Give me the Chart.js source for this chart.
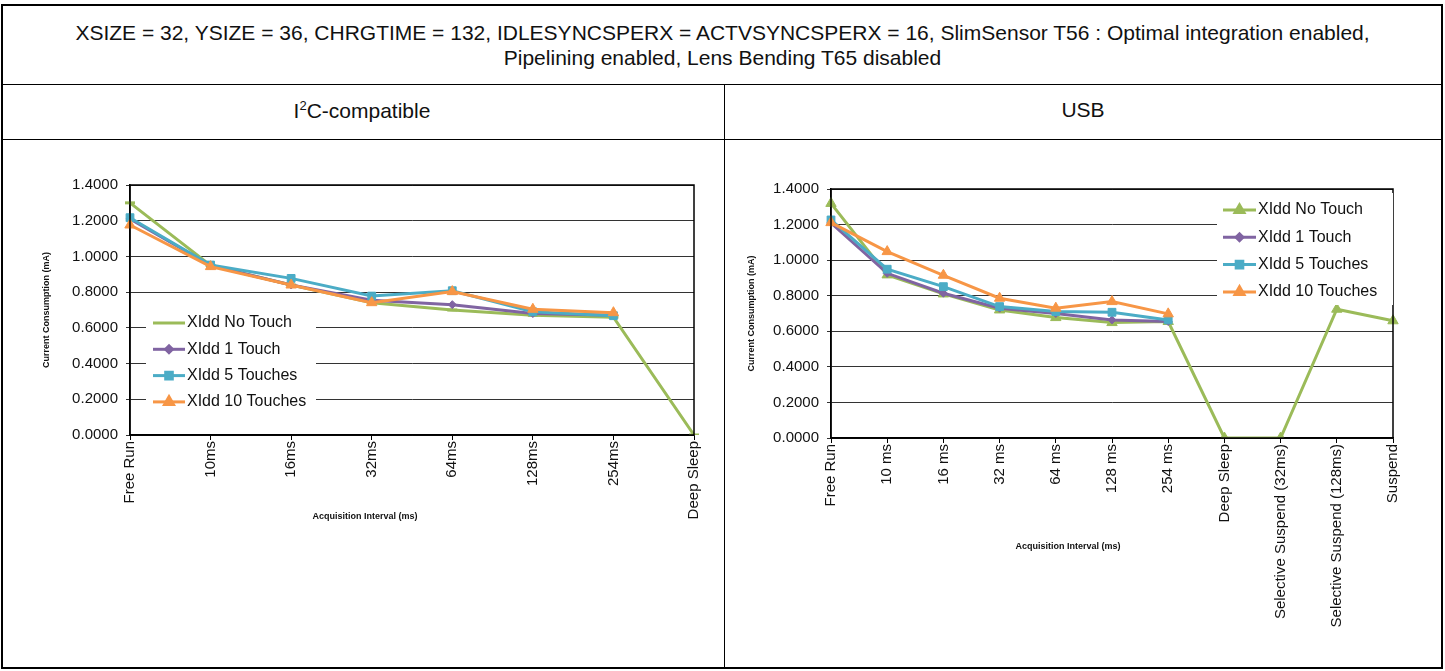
<!DOCTYPE html>
<html>
<head>
<meta charset="utf-8">
<script src="https://cdn.jsdelivr.net/npm/chart.js@4"></script>
<style>
  body { margin: 0; background: #fff; font-family: "Liberation Sans", Arial, sans-serif; color: #111; }
  #page { position: relative; width: 1445px; height: 671px; overflow: hidden; }
  .frame { position: absolute; left: 1px; top: 4px; width: 1438px; height: 661px; border: 2px solid #000; }
  .hline { position: absolute; height: 0; border-top: 1px solid #000; }
  .vline { position: absolute; width: 0; border-left: 1px solid #000; }
  .head { position: absolute; left: 0; width: 1445px; text-align: center; font-size: 21px; line-height: 25px; }
  .cell { position: absolute; text-align: center; font-size: 21px; }
  canvas { position: absolute; }
</style>
</head>
<body>
<div id="page">
  <div class="frame"></div>
  <div class="hline" style="left:1px; top:84px; width:1440px;"></div>
  <div class="hline" style="left:1px; top:139px; width:1440px;"></div>
  <div class="vline" style="left:724px; top:84px; height:583px;"></div>
  <div class="head" style="top:20px;">XSIZE = 32, YSIZE = 36, CHRGTIME = 132, IDLESYNCSPERX = ACTVSYNCSPERX = 16, SlimSensor T56 : Optimal integration enabled,<br>Pipelining enabled, Lens Bending T65 disabled</div>
  <div class="cell" style="left:0; width:724px; top:98px;">I<sup style="font-size:13px;">2</sup>C-compatible</div>
  <div class="cell" style="left:724px; width:718px; top:98px;">USB</div>
  <canvas id="leftChart" style="left:5px; top:145px;" width="714" height="515"></canvas>
  <canvas id="rightChart" style="left:728px; top:145px;" width="708" height="515"></canvas>
</div>
<script>
// I2C-compatible chart
const i2cLabels = ["Free Run", "10ms", "16ms", "32ms", "64ms", "128ms", "254ms", "Deep Sleep"];
const i2cNoTouch = [1.30, 0.95, 0.84, 0.74, 0.70, 0.67, 0.66, 0.0];
const i2cOneTouch = [1.21, 0.95, 0.84, 0.755, 0.73, 0.68, 0.67, null];
const i2cFiveTouches = [1.217, 0.952, 0.877, 0.778, 0.808, 0.69, 0.668, null];
const i2cTenTouches = [1.176, 0.943, 0.84, 0.741, 0.803, 0.704, 0.685, null];

// USB chart
const usbLabels = ["Free Run", "10 ms", "16 ms", "32 ms", "64 ms", "128 ms", "254 ms", "Deep Sleep",
  "Selective Suspend (32ms)", "Selective Suspend (128ms)", "Suspend"];
const usbNoTouch = [1.319, 0.917, 0.81, 0.72, 0.677, 0.649, 0.655, 0.0, 0.0, 0.724, 0.659];
const usbOneTouch = [1.21, 0.926, 0.814, 0.73, 0.70, 0.664, 0.655, null, null, null, null];
const usbFiveTouches = [1.226, 0.949, 0.851, 0.739, 0.711, 0.707, 0.664, null, null, null, null];
const usbTenTouches = [1.211, 1.048, 0.915, 0.786, 0.73, 0.767, 0.698, null, null, null, null];

const yTicks = [0, 0.2, 0.4, 0.6, 0.8, 1.0, 1.2, 1.4];
const seriesNames = ["XIdd No Touch", "XIdd 1 Touch", "XIdd 5 Touches", "XIdd 10 Touches"];

const GREEN = "#9bbb59", PURPLE = "#8064a2", TEAL = "#4bacc6", ORANGE = "#f79646";
const FONT = "'Liberation Sans', Arial, sans-serif";

function makeDatasets(values, greenStyle) {
  const styles = [
    { color: GREEN, point: greenStyle.point, radius: greenStyle.radius, order: 4 },
    { color: PURPLE, point: "rectRot", radius: 4, order: 3 },
    { color: TEAL, point: "rect", radius: 5.5, order: 2 },
    { color: ORANGE, point: "triangle", radius: 6, order: 1 },
  ];
  return values.map((data, i) => ({
    label: seriesNames[i],
    data: data,
    borderColor: styles[i].color,
    backgroundColor: styles[i].color,
    borderWidth: 3,
    pointStyle: styles[i].point,
    pointRadius: styles[i].radius,
    pointBorderWidth: styles[i].point === "line" ? 3 : 1,
    pointBackgroundColor: styles[i].color,
    pointBorderColor: styles[i].color,
    order: styles[i].order,
    tension: 0,
  }));
}

// frame, axis titles and an in-plot legend
function decorPlugin(cfg) {
  return {
    id: "decor",
    afterDraw(chart) {
      const { ctx, chartArea: a } = chart;
      ctx.save();
      ctx.strokeStyle = "#000";
      ctx.lineWidth = 1.5;
      ctx.strokeRect(a.left, a.top, a.right - a.left, a.bottom - a.top);

      ctx.fillStyle = "#111";
      ctx.font = "bold 9px " + FONT;
      ctx.textAlign = "center";
      ctx.textBaseline = "middle";
      ctx.fillText("Acquisition Interval (ms)", a.left + cfg.xTitleDx, a.bottom + cfg.xTitleDy);
      ctx.translate(a.left - cfg.yTitleDx, (a.top + a.bottom) / 2);
      ctx.rotate(-Math.PI / 2);
      ctx.fillText("Current Consumption (mA)", 0, 0);
      ctx.restore();

      // legend
      ctx.save();
      const lg = cfg.legend;
      ctx.fillStyle = "#fff";
      ctx.fillRect(a.left + lg.x, a.top + lg.y, lg.w, lg.h);
      ctx.font = "16px " + FONT;
      ctx.textAlign = "left";
      ctx.textBaseline = "middle";
      chart.data.datasets.forEach((ds, i) => {
        const y = a.top + lg.y + lg.first + i * lg.step;
        const x0 = a.left + lg.x + lg.pad;
        ctx.strokeStyle = ds.borderColor;
        ctx.lineWidth = 3;
        ctx.beginPath();
        ctx.moveTo(x0, y);
        ctx.lineTo(x0 + lg.line, y);
        ctx.stroke();
        if (!(i === 0 && lg.noGreenMarker)) {
          Chart.helpers.drawPoint(ctx, {
            pointStyle: ds.pointStyle, radius: ds.pointRadius * 0.85, borderWidth: 1, rotation: 0,
          }, x0 + lg.line / 2, y);
          ctx.fillStyle = ds.borderColor;
          ctx.fill();
        }
        ctx.fillStyle = "#111";
        ctx.fillText(ds.label, x0 + lg.line + 2, y);
      });
      ctx.restore();
    },
  };
}

function makeChart(id, labels, values, cfg) {
  new Chart(document.getElementById(id).getContext("2d"), {
    type: "line",
    data: { labels: labels, datasets: makeDatasets(values, cfg.green) },
    options: {
      responsive: false,
      animation: false,
      spanGaps: false,
      layout: { padding: cfg.padding },
      plugins: { legend: { display: false }, tooltip: { enabled: false } },
      scales: {
        x: {
          offset: false,
          border: { color: "#000", width: 1.5 },
          grid: { drawOnChartArea: false, drawTicks: true, tickLength: 5, color: "#000" },
          ticks: { color: "#111", font: { family: FONT, size: 15 }, minRotation: 90, maxRotation: 90, autoSkip: false, padding: 1 },
          afterFit: (s) => { s.height = cfg.xHeight; },
        },
        y: {
          min: 0,
          max: 1.4,
          afterBuildTicks: (s) => { s.ticks = yTicks.map((v) => ({ value: v })); },
          border: { color: "#000", width: 1.5 },
          grid: { color: "#333", lineWidth: 1, tickLength: 4 },
          ticks: { color: "#111", font: { family: FONT, size: 15 }, padding: 8, callback: (v) => v.toFixed(4) },
          afterFit: (s) => { s.width = cfg.yWidth; },
        },
      },
    },
    plugins: [decorPlugin(cfg)],
  });
}

makeChart("leftChart", i2cLabels, [i2cNoTouch, i2cOneTouch, i2cFiveTouches, i2cTenTouches], {
  green: { point: "line", radius: 5 },
  padding: { top: 40, left: 0, right: 25, bottom: 0 },
  yWidth: 125,
  xHeight: 225,
  xTitleDx: 235, xTitleDy: 82,
  yTitleDx: 83,
  legend: { x: 16, y: 120, w: 170, h: 106, pad: 7, first: 18, step: 26.3, line: 32, noGreenMarker: true },
});

makeChart("rightChart", usbLabels, [usbNoTouch, usbOneTouch, usbFiveTouches, usbTenTouches], {
  green: { point: "triangle", radius: 6 },
  padding: { top: 44, left: 0, right: 43, bottom: 0 },
  yWidth: 103,
  xHeight: 222,
  xTitleDx: 237, xTitleDy: 109,
  yTitleDx: 79,
  legend: { x: 386, y: 4, w: 176, h: 112, pad: 6, first: 17, step: 27.3, line: 33, noGreenMarker: false },
});
</script>
</body>
</html>
